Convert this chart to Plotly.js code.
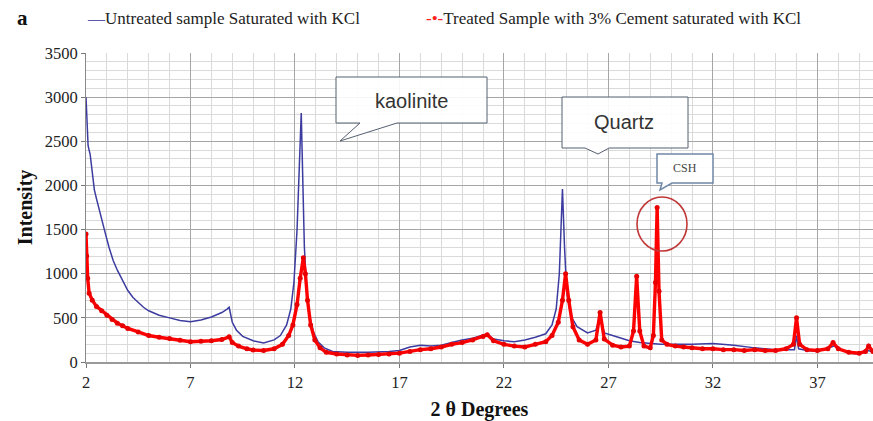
<!DOCTYPE html>
<html><head><meta charset="utf-8">
<script src="https://cdn.plot.ly/plotly-3.0.1.min.js"></script>
<style>html,body{margin:0;padding:0;background:#fff}#chart{width:873px;height:421px}</style>
</head><body><div id="chart"></div>
<script>
// Untreated sample (blue)
var untreatedX = [2.0,2.05,2.1,2.2,2.3,2.4,2.5,2.7,2.9,3.1,3.3,3.5,3.75,4.0,4.25,4.5,4.75,5.0,5.5,6.0,6.5,7.0,7.5,8.0,8.5,8.75,8.85,9.0,9.2,9.5,10.0,10.5,11.0,11.3,11.6,11.8,11.95,12.1,12.2,12.3,12.38,12.45,12.55,12.7,12.9,13.1,13.4,13.8,14.5,15.5,16.5,17.0,17.5,18.0,18.5,19.0,19.5,20.0,20.5,21.0,21.2,21.5,22.0,22.5,23.0,23.5,24.0,24.3,24.5,24.65,24.8,24.9,25.0,25.2,25.5,26.0,26.4,26.6,26.8,27.2,27.5,28.0,28.5,29.0,29.5,30.0,31.0,32.0,33.0,34.0,35.0,35.9,36.0,36.1,36.5,37.0,37.8,38.5,39.0,39.45,39.66];
var untreatedY = [3000,2700,2450,2350,2150,1950,1850,1650,1480,1300,1150,1040,920,810,730,670,620,580,530,500,470,455,475,510,560,600,620,450,360,290,240,215,250,300,420,600,900,1500,2200,2820,2000,1300,850,520,330,230,160,120,110,110,120,130,170,190,180,190,220,250,270,300,320,260,240,230,250,280,320,420,600,1000,1960,1300,800,520,400,330,360,520,330,300,280,240,220,210,200,200,200,210,190,160,140,140,300,150,130,120,180,100,90,130,110];
// Treated sample with 3% cement (red)
var treatedX = [2.0,2.03,2.08,2.15,2.3,2.5,2.75,3.0,3.25,3.5,3.75,4.0,4.5,5.0,5.5,6.0,6.5,7.0,7.5,8.0,8.5,8.85,9.0,9.3,9.7,10.0,10.5,11.0,11.4,11.7,11.9,12.1,12.25,12.4,12.5,12.6,12.75,12.95,13.2,13.5,14.0,14.5,15.0,15.5,16.0,16.5,17.0,17.5,18.0,18.5,19.0,19.5,20.0,20.5,21.0,21.2,21.5,22.0,22.5,23.0,23.5,24.0,24.3,24.6,24.8,24.95,25.1,25.3,25.6,26.0,26.4,26.6,26.8,27.2,27.6,28.0,28.2,28.35,28.5,28.7,29.0,29.15,29.25,29.33,29.42,29.55,29.8,30.2,30.6,31.0,31.5,32.0,32.5,33.0,33.5,34.0,34.5,35.0,35.5,35.85,36.0,36.15,36.5,37.0,37.5,37.75,38.0,38.5,39.0,39.3,39.45,39.66];
var treatedY = [1450,1200,950,780,700,630,580,530,480,440,410,380,340,300,280,265,245,230,235,240,255,285,220,180,150,135,130,150,200,300,420,650,950,1180,1000,700,420,250,160,110,90,80,75,80,85,90,100,120,140,150,170,200,220,250,290,310,240,200,180,170,200,230,300,450,700,1000,700,400,250,200,250,560,260,190,170,180,350,970,350,180,160,300,900,1750,800,250,200,180,170,160,150,150,140,140,130,140,130,130,150,200,500,200,140,130,150,220,150,110,100,120,180,120];
var xTickVals = [2,7,12,17,22,27,32,37];
var yTickVals = [0,500,1000,1500,2000,2500,3000,3500];

var L=86, R=873, T=53, B=362;
function PX(px){return (px-L)/(R-L);}
function PY(py){return (B-py)/(B-T);}

var traces = [
 {x: untreatedX, y: untreatedY, type:'scatter', mode:'lines', name:'Untreated sample Saturated with KCl',
  line:{color:'#3c3ca0', width:1.5}},
 {x: treatedX, y: treatedY, type:'scatter', mode:'lines+markers', name:'Treated Sample with 3% Cement saturated with KCl',
  line:{color:'#ff0000', width:3.4}, marker:{color:'#e80000', size:5}}
];

var boxLine = {color:'#556070', width:1};
function ann(px, py, text, font, xa){
  return {xref:'paper', yref:'paper', x:PX(px), y:PY(py), xanchor:xa||'center', yanchor:'middle',
          text:text, showarrow:false, font:font};
}
var layout = {
 width:873, height:421,
 margin:{l:L, r:873-R, t:T, b:421-B},
 paper_bgcolor:'#fff', plot_bgcolor:'#fff',
 showlegend:false,
 xaxis:{range:[2,39.66], tickvals:xTickVals, ticktext:xTickVals.map(String),
   showgrid:true, gridcolor:'#a6a6a6', gridwidth:1,
   minor:{dtick:1, tick0:2, showgrid:true, gridcolor:'#dadada', gridwidth:1},
   ticks:'outside', ticklen:4, tickcolor:'#777',
   showline:true, linecolor:'#9a9a9a', linewidth:2, zeroline:false,
   tickfont:{family:'Liberation Serif', size:16.5, color:'#222'},
   title:{text:'<b>2 θ Degrees</b>', font:{family:'Liberation Serif', size:20, color:'#111'}, standoff:13}},
 yaxis:{range:[0,3500], tickvals:yTickVals, ticktext:yTickVals.map(String),
   showgrid:true, gridcolor:'#a6a6a6', gridwidth:1,
   minor:{dtick:100, showgrid:true, gridcolor:'#dadada', gridwidth:1},
   ticks:'outside', ticklen:4, tickcolor:'#777',
   showline:true, linecolor:'#8a8a8a', linewidth:1, zeroline:false,
   tickfont:{family:'Liberation Serif', size:16.5, color:'#222'},
   title:{text:'<b>Intensity</b>', font:{family:'Liberation Serif', size:20, color:'#111'}, standoff:6}},
 shapes:[
  {type:'path', xref:'paper', yref:'paper', layer:'above', fillcolor:'rgba(255,255,255,0.9)', line:boxLine,
   path:'M'+PX(336)+','+PY(77)+' L'+PX(487)+','+PY(77)+' L'+PX(487)+','+PY(123)+' L'+PX(397)+','+PY(123)+' L'+PX(340)+','+PY(141)+' L'+PX(360)+','+PY(123)+' L'+PX(336)+','+PY(123)+' Z'},
  {type:'path', xref:'paper', yref:'paper', layer:'above', fillcolor:'rgba(255,255,255,0.9)', line:boxLine,
   path:'M'+PX(562)+','+PY(97)+' L'+PX(688)+','+PY(97)+' L'+PX(688)+','+PY(148)+' L'+PX(609)+','+PY(148)+' L'+PX(598)+','+PY(154)+' L'+PX(585)+','+PY(148)+' L'+PX(562)+','+PY(148)+' Z'},
  {type:'path', xref:'paper', yref:'paper', layer:'above', fillcolor:'rgba(255,255,255,0.9)', line:{color:'#7088a8', width:1.5},
   path:'M'+PX(657)+','+PY(154)+' L'+PX(713)+','+PY(154)+' L'+PX(713)+','+PY(183)+' L'+PX(672)+','+PY(183)+' L'+PX(660)+','+PY(190)+' L'+PX(662)+','+PY(183)+' L'+PX(657)+','+PY(183)+' Z'},
  {type:'circle', xref:'paper', yref:'paper', layer:'above', line:{color:'#c03838', width:1.6},
   x0:PX(637), x1:PX(687), y0:PY(251), y1:PY(197)}
 ],
 annotations:[
  ann(411, 101, 'kaolinite', {family:'Liberation Sans', size:20, color:'#333'}),
  ann(624, 122, 'Quartz', {family:'Liberation Sans', size:20, color:'#333'}),
  ann(685, 168, 'CSH', {family:'Liberation Serif', size:12, color:'#444'}),
  ann(15, 18, '<b>a</b>', {family:'Liberation Serif', size:21, color:'#111'}, 'left'),
  ann(85, 19, '<span style="color:#5a5aa8">—</span>Untreated sample Saturated with KCl',
      {family:'Liberation Serif', size:17, color:'#222'}, 'left'),
  ann(424, 19, '<span style="color:#ff2020">-•-</span>Treated Sample with 3% Cement saturated with KCl',
      {family:'Liberation Serif', size:17, color:'#222'}, 'left')
 ]
};
Plotly.newPlot('chart', traces, layout, {displayModeBar:false, staticPlot:true});
</script></body></html>
